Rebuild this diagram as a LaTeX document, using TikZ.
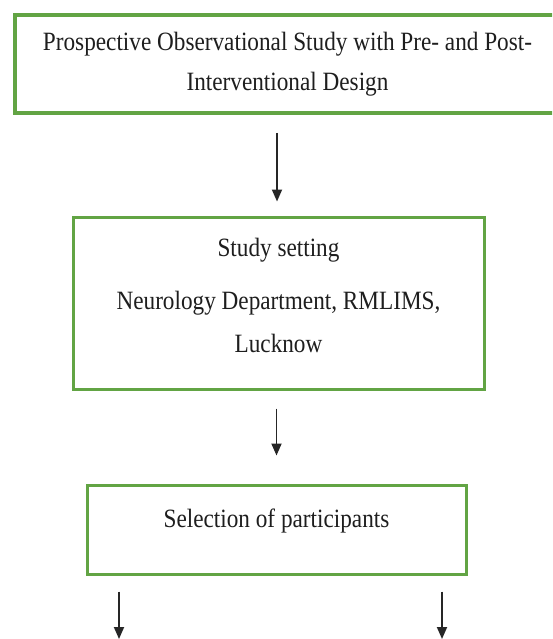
\documentclass[tikz,border=0pt]{standalone}
\usepackage{fontspec}
\setmainfont{Liberation Serif}[FakeStretch=0.88]
\usetikzlibrary{arrows.meta}
\definecolor{boxgreen}{RGB}{98,164,68}
\definecolor{txt}{RGB}{30,30,30}
\tikzset{
  box/.style={draw=boxgreen, rectangle, inner sep=0pt, align=center, text=txt, anchor=center},
  arr/.style={draw=black!85, line width=1.8pt, -{Triangle[length=12pt,width=10pt]}}
}
\begin{document}
\begin{tikzpicture}[x=1pt,y=-1pt]
\useasboundingbox[fill=white] (0,0) rectangle (552,639);
\clip (0,0) rectangle (552,639);
\node[box, line width=4pt, minimum width=545pt, minimum height=98pt,
  font=\fontsize{26.4}{40}\selectfont] (b1) at (287.5,64)
  {Prospective Observational Study with Pre- and Post-\\Interventional Design};
\node[box, line width=3pt, minimum width=411pt, minimum height=172pt,
  font=\fontsize{26.4}{43}\selectfont, text depth=16pt] (b2) at (278.5,303)
  {Study setting\\[10pt]Neurology Department, RMLIMS,\\Lucknow};
\node[box, line width=3pt, minimum width=379pt, minimum height=89pt,
  font=\fontsize{26.4}{40}\selectfont, text depth=22pt] (b3) at (276.5,529.5)
  {Selection of participants};
\coordinate (e1) at (119,639);
\coordinate (e2) at (442,639);
\draw[arr] ([yshift=-18pt]b1.south -| 277,0) -- ([yshift=14pt]b2.north -| 277,0);
\draw[arr] ([yshift=-18pt]b2.south -| b3.north) -- ([yshift=28pt]b3.north);
\draw[arr] ([yshift=-16pt]b3.south -| e1) -- (e1);
\draw[arr] ([yshift=-16pt]b3.south -| e2) -- (e2);
\end{tikzpicture}
\end{document}
